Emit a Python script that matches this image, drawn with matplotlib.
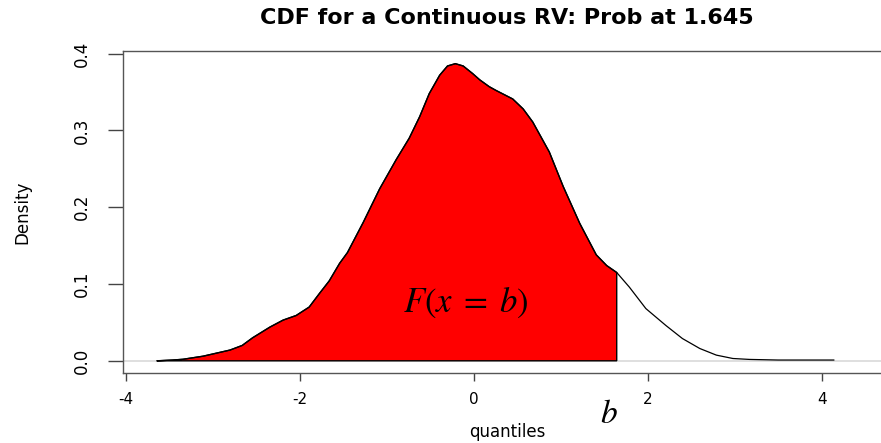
import matplotlib
matplotlib.use("Agg")
import matplotlib.pyplot as plt
import numpy as np

# density curve read as (quantile, density) pairs
quantiles = [-3.64, -3.46, -3.34, -3.11, -2.80, -2.66, -2.54, -2.34, -2.19, -2.04,
             -1.89, -1.77, -1.66, -1.54, -1.45, -1.27, -1.08, -0.89, -0.74, -0.62,
             -0.51, -0.39, -0.30, -0.21, -0.12, -0.01, 0.07, 0.18, 0.26, 0.45,
             0.57, 0.68, 0.87, 1.03, 1.22, 1.41, 1.53, 1.645, 1.79, 1.98,
             2.21, 2.40, 2.60, 2.79, 2.98, 3.17, 3.50, 4.14]
density = [0.0, 0.001, 0.002, 0.006, 0.014, 0.020, 0.030, 0.044, 0.053, 0.059,
           0.070, 0.088, 0.104, 0.127, 0.141, 0.180, 0.224, 0.262, 0.290, 0.318,
           0.348, 0.372, 0.384, 0.387, 0.384, 0.374, 0.366, 0.357, 0.352, 0.341,
           0.328, 0.311, 0.272, 0.227, 0.179, 0.138, 0.124, 0.115, 0.096, 0.068,
           0.046, 0.029, 0.016, 0.0074, 0.003, 0.0018, 0.001, 0.001]
cutoff = 1.645

xticks = [-4, -2, 0, 2, 4]
yticks = [0.0, 0.1, 0.2, 0.3, 0.4]
ytick_labels = ["0.0", "0.1", "0.2", "0.3", "0.4"]

plt.rcParams['mathtext.fontset'] = 'stix'

W, H = 881, 443
fig = plt.figure(figsize=(W / 100, H / 100), dpi=100)
left, right, top, bottom = 123, 891, 51, 372.7
ax = fig.add_axes([left / W, 1 - bottom / H, (right - left) / W, (bottom - top) / H])

x = np.array(quantiles)
y = np.array(density)

ax.axhline(0, color="#d9d9d9", lw=1.2, zorder=1)

# shaded area up to the cutoff, closed with a vertical edge
m = x <= cutoff
px = np.concatenate([x[m], [cutoff, cutoff, x[m][0]]])
py = np.concatenate([y[m], [y[x == cutoff][0], 0, 0]])
ax.fill(px, py, facecolor="red", edgecolor="black", lw=1.0, zorder=2)
ax.plot(x, y, color="black", lw=0.9, zorder=3)

ax.set_xlim(-4.03, -4.03 + (right - left) / 87)
ax.set_ylim(-0.0155, 0.4035)

for s in ["left", "bottom", "top"]:
    ax.spines[s].set_color("#555555")
    ax.spines[s].set_linewidth(1.0)
ax.spines["right"].set_visible(False)

ax.set_xticks(xticks)
ax.set_xticklabels([str(v) for v in xticks], fontsize=11, family="DejaVu Sans")
ax.set_yticks(yticks)
ax.set_yticklabels(ytick_labels, fontsize=12, rotation=90, va="center",
                   family=["Liberation Sans Narrow", "DejaVu Sans"])
ax.tick_params(axis="x", length=6, width=1, color="#444444", pad=8)
ax.tick_params(axis="y", length=11, width=1, color="#444444", pad=12)

# axis titles placed in figure pixels
fig.text(507 / W, 1 - 432 / H, "quantiles", ha="center", va="center", fontsize=12)
fig.text(22 / W, 1 - 212 / H, "Density", ha="center", va="center", fontsize=12,
         rotation=90, family=["Liberation Sans Narrow", "DejaVu Sans"])

fig.text(507 / W, 1 - 18 / H, "CDF for a Continuous RV: Prob at 1.645",
         ha="center", va="center", fontsize=16, fontweight="bold")

ax.text(-0.09, 0.075, r"$F(x\;=\;b)$", fontsize=25, ha="center", va="center", zorder=4)
ax.text(1.56, -0.068, r"$b$", fontsize=24, ha="center", va="center", clip_on=False)

fig.savefig("out.png", dpi=100)
